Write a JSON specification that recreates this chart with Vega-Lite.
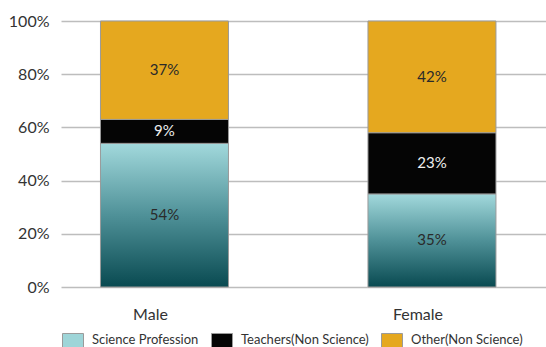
{
  "$schema": "https://vega.github.io/schema/vega-lite/v6.json",
  "width": 485,
  "height": 266,
  "autosize": {"type": "none"},
  "padding": {"left": 61, "top": 21, "right": 0, "bottom": 60},
  "background": "white",
  "config": {
    "view": {"stroke": null},
    "font": "Lato",
    "text": {"font": "Lato"}
  },
  "data": {
    "values": [
      {"gender": "Male", "category": "Science Profession", "share": 0.54},
      {"gender": "Male", "category": "Teachers(Non Science)", "share": 0.09},
      {"gender": "Male", "category": "Other(Non Science)", "share": 0.37},
      {"gender": "Female", "category": "Science Profession", "share": 0.35},
      {"gender": "Female", "category": "Teachers(Non Science)", "share": 0.23},
      {"gender": "Female", "category": "Other(Non Science)", "share": 0.42}
    ]
  },
  "transform": [
    {"calculate": "indexof(['Science Profession', 'Teachers(Non Science)', 'Other(Non Science)'], datum.category)", "as": "rank"},
    {"stack": "share", "groupby": ["gender"], "sort": [{"field": "rank", "order": "ascending"}], "as": ["lo", "hi"]},
    {"calculate": "(datum.lo + datum.hi) / 2", "as": "mid"}
  ],
  "encoding": {
    "x": {
      "field": "gender",
      "type": "nominal",
      "sort": ["Male", "Female"],
      "scale": {"paddingInner": 0.5215, "paddingOuter": 0.1673, "align": 0.441},
      "axis": {
        "title": null,
        "domain": false,
        "ticks": false,
        "grid": false,
        "labelAngle": 0,
        "labelPadding": 19,
        "labelOffset": -14,
        "labelFontSize": 16,
        "labelColor": "#333333",
        "labelFont": "Lato"
      }
    }
  },
  "layer": [
    {
      "mark": {"type": "bar", "stroke": "#9a9a9a", "strokeWidth": 1},
      "encoding": {
        "y": {
          "field": "lo",
          "type": "quantitative",
          "scale": {"domain": [0, 1], "nice": false},
          "axis": {
            "title": null,
            "values": [0, 0.2, 0.4, 0.6, 0.8, 1],
            "format": ".0%",
            "domain": false,
            "ticks": false,
            "grid": true,
            "gridColor": "#bdbdbd",
            "gridWidth": 1.5,
            "labelPadding": 12,
            "labelFontSize": 16,
            "labelColor": "#333333",
            "labelFont": "Lato"
          }
        },
        "y2": {"field": "hi"},
        "color": {
          "condition": {
            "test": "datum.category === 'Science Profession'",
            "value": {
              "gradient": "linear",
              "x1": 0, "y1": 0, "x2": 0, "y2": 1,
              "stops": [
                {"offset": 0, "color": "#a2d9dc"},
                {"offset": 0.5, "color": "#4f9198"},
                {"offset": 1, "color": "#094a51"}
              ]
            }
          },
          "field": "category",
          "type": "nominal",
          "scale": {
            "domain": ["Science Profession", "Teachers(Non Science)", "Other(Non Science)"],
            "range": ["#9ed5d8", "#050505", "#e5a81f"]
          },
          "legend": {
            "title": null,
            "orient": "none",
            "legendX": 1,
            "legendY": 308,
            "direction": "horizontal",
            "symbolType": "M-1,-0.667H1V0.667H-1Z",
            "symbolSize": 441,
            "symbolStrokeColor": "#9a9a9a",
            "symbolStrokeWidth": 1,
            "labelFontSize": 13,
            "labelColor": "#333333",
            "labelFont": "Lato",
            "labelOffset": 8,
            "columnPadding": 10
          }
        }
      }
    },
    {
      "mark": {"type": "text", "fontSize": 15, "baseline": "middle"},
      "encoding": {
        "y": {"field": "mid", "type": "quantitative"},
        "text": {"field": "share", "type": "quantitative", "format": ".0%"},
        "color": {
          "condition": {"test": "datum.category === 'Teachers(Non Science)'", "value": "#eeeeee"},
          "value": "#2a2a2a"
        }
      }
    }
  ]
}
